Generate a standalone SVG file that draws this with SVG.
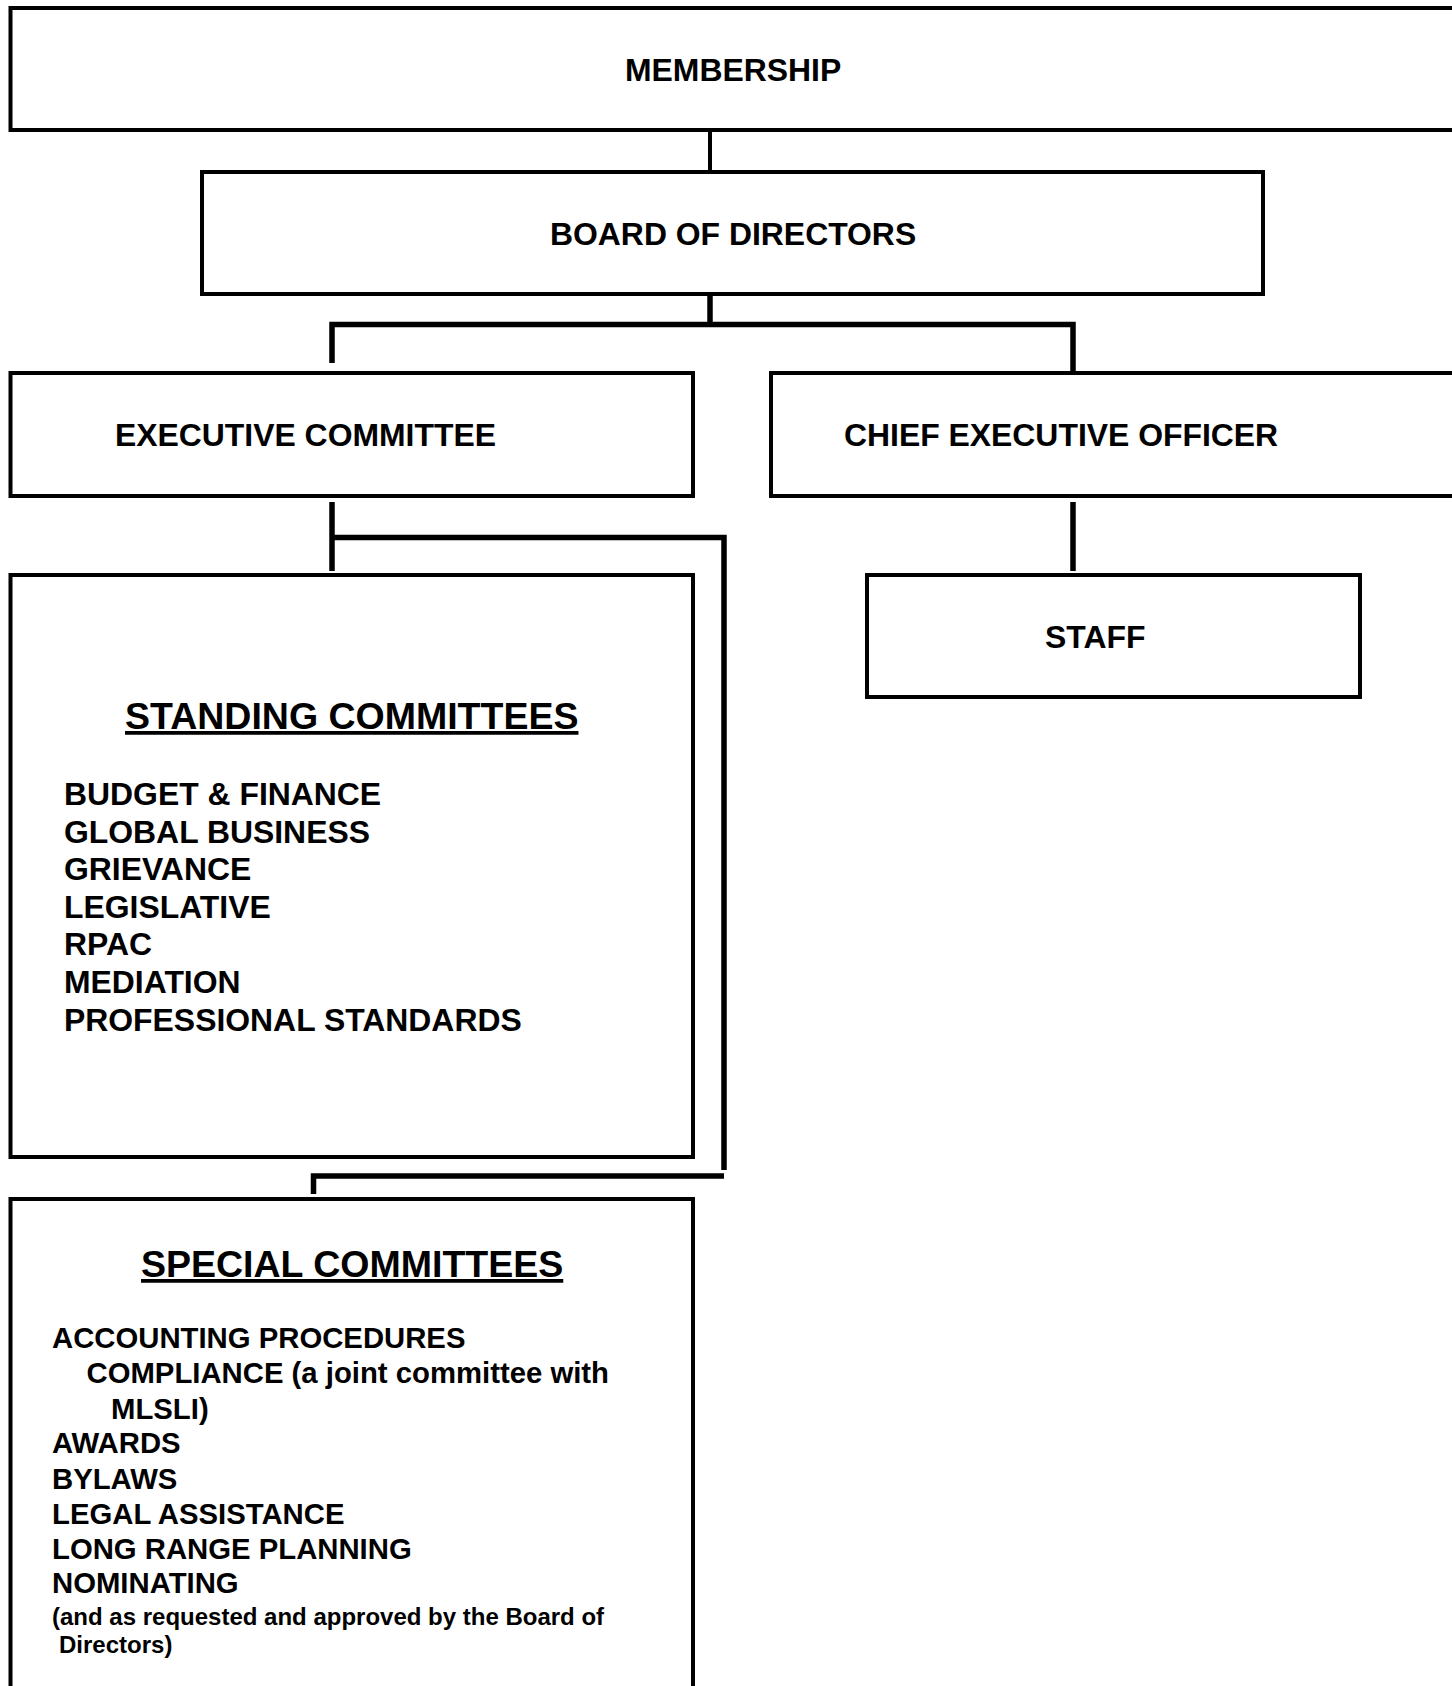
<svg xmlns="http://www.w3.org/2000/svg" width="1452" height="1686" viewBox="0 0 1452 1686">
<style>
.box{fill:#fff;stroke:#000;stroke-width:4}
.t{font-family:"Liberation Sans",Arial,sans-serif;font-weight:bold;fill:#000}
.title{font-size:31.9px}
.head{font-size:37.5px;text-decoration:underline}
.std{font-size:31.9px}
.spc{font-size:29.3px}
.note{font-size:24px}
.con{fill:none;stroke:#000;stroke-width:5.5;stroke-linejoin:miter;stroke-linecap:butt}
</style>
<rect width="1452" height="1686" fill="#fff"/>
<g id="connectors">
<line class="con" x1="710" y1="130" x2="710" y2="172" style="stroke-width:4"/>
<line class="con" x1="710" y1="294" x2="710" y2="324"/>
<polyline class="con" points="332,363 332,324.5 1073,324.5 1073,376"/>
<line class="con" x1="1073" y1="502" x2="1073" y2="571"/>
<line class="con" x1="332" y1="502" x2="332" y2="571"/>
<polyline class="con" points="332,537.5 724,537.5 724,1170"/>
<polyline class="con" points="313.5,1194 313.5,1176 724,1176"/>
</g>
<g id="membership">
<rect class="box" x="10.5" y="8" width="1460" height="122"/>
<text class="t title" x="625" y="81">MEMBERSHIP</text>
</g>
<g id="board">
<rect class="box" x="202" y="172" width="1061" height="122"/>
<text class="t title" x="550" y="245">BOARD OF DIRECTORS</text>
</g>
<g id="executive">
<rect class="box" x="10.5" y="373" width="682.5" height="123"/>
<text class="t title" x="115" y="446">EXECUTIVE COMMITTEE</text>
</g>
<g id="ceo">
<rect class="box" x="771" y="373" width="700" height="123"/>
<text class="t title" x="844" y="446">CHIEF EXECUTIVE OFFICER</text>
</g>
<g id="staff">
<rect class="box" x="867" y="575" width="493" height="122"/>
<text class="t title" x="1045" y="648">STAFF</text>
</g>
<g id="standing">
<rect class="box" x="10.5" y="575" width="682.5" height="582"/>
<text class="t head" x="125" y="729">STANDING COMMITTEES</text>
<text class="t std" x="64" y="805">BUDGET &amp; FINANCE</text>
<text class="t std" x="64" y="842.5">GLOBAL BUSINESS</text>
<text class="t std" x="64" y="880">GRIEVANCE</text>
<text class="t std" x="64" y="917.5">LEGISLATIVE</text>
<text class="t std" x="64" y="955">RPAC</text>
<text class="t std" x="64" y="993">MEDIATION</text>
<text class="t std" x="64" y="1030.5">PROFESSIONAL STANDARDS</text>
</g>
<g id="special">
<rect class="box" x="10.5" y="1199" width="682.5" height="600"/>
<text class="t head" x="141" y="1277">SPECIAL COMMITTEES</text>
<text class="t spc" x="52" y="1348">ACCOUNTING PROCEDURES</text>
<text class="t spc" x="86.5" y="1383">COMPLIANCE (a joint committee with</text>
<text class="t spc" x="111" y="1419">MLSLI)</text>
<text class="t spc" x="52" y="1453">AWARDS</text>
<text class="t spc" x="52" y="1489">BYLAWS</text>
<text class="t spc" x="52" y="1524">LEGAL ASSISTANCE</text>
<text class="t spc" x="52" y="1559">LONG RANGE PLANNING</text>
<text class="t spc" x="52" y="1593">NOMINATING</text>
<text class="t note" x="52" y="1625">(and as requested and approved by the Board of</text>
<text class="t note" x="59" y="1653">Directors)</text>
</g>
</svg>
